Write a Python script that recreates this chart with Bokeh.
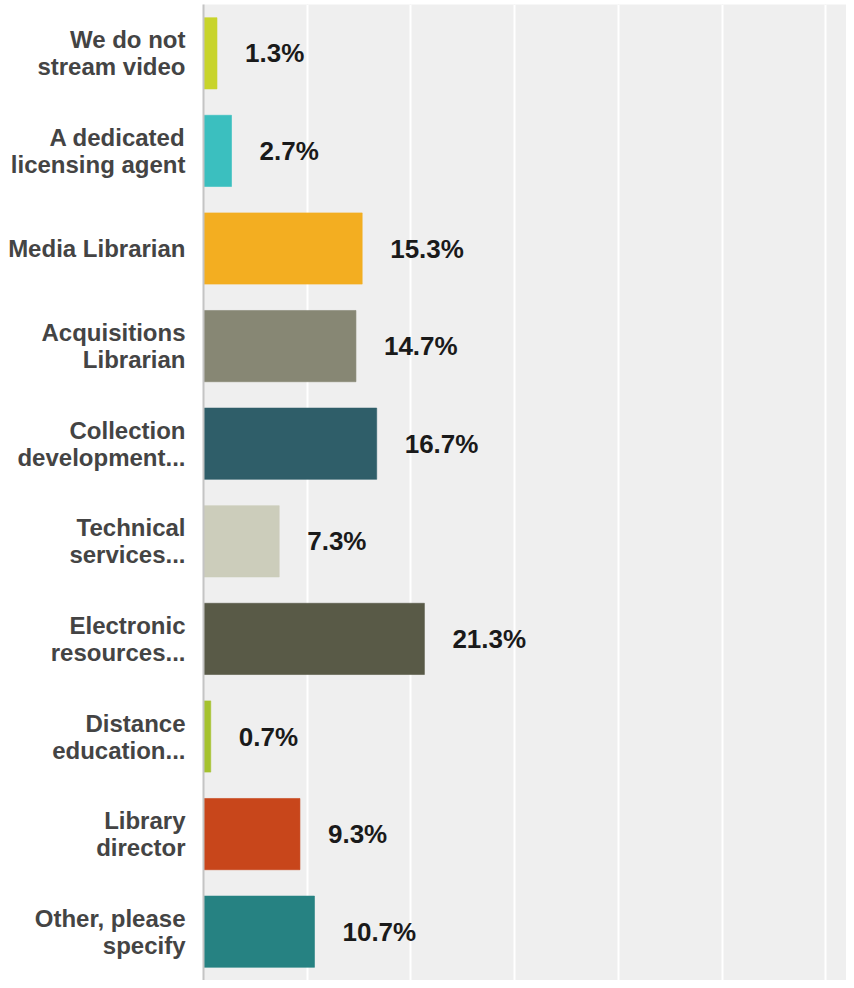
from bokeh.plotting import figure
from bokeh.models import FactorRange, Grid, SingleIntervalTicker, ColumnDataSource
from bokeh.core.properties import value
from bokeh.embed import file_html
from bokeh.resources import INLINE

categories = [
    "We do not\nstream video",
    "A dedicated\nlicensing agent",
    "Media Librarian",
    "Acquisitions\nLibrarian",
    "Collection\ndevelopment...",
    "Technical\nservices...",
    "Electronic\nresources...",
    "Distance\neducation...",
    "Library\ndirector",
    "Other, please\nspecify",
]
percentages = [1.3, 2.7, 15.3, 14.7, 16.7, 7.3, 21.3, 0.7, 9.3, 10.7]
colors = ["#c8d42b", "#3bbfbf", "#f3ae21", "#878774", "#2f5e69",
          "#cccdbb", "#595a47", "#a5c22e", "#c8461b", "#268282"]
value_labels = [f"{v:.1f}%" for v in percentages]

src = ColumnDataSource(dict(cat=categories, val=percentages, color=colors, lab=value_labels))

p = figure(width=846, height=980, output_backend="svg", toolbar_location=None,
           y_range=FactorRange(factors=list(reversed(categories)), range_padding=0),
           x_range=(0, 62.0), x_axis_location=None,
           min_border_left=203, min_border_right=0, min_border_top=4, min_border_bottom=0)

p.background_fill_color = "#efefef"
p.border_fill_color = "white"
p.outline_line_color = None
p.ygrid.grid_line_color = None
p.add_layout(Grid(dimension=0, ticker=SingleIntervalTicker(interval=10),
                  grid_line_color="white", grid_line_width=2))

p.hbar(y="cat", right="val", left=0, height=0.73, fill_color="color",
       line_color="color", line_alpha=0.6, source=src)

p.text(x="val", y="cat", text="lab", source=src, x_offset=28,
       text_baseline="middle", text_align="left",
       text_font=value("Liberation Sans"), text_font_style="bold",
       text_font_size="26px", text_color="#1a1a1a")

ax = p.yaxis[0]
ax.axis_line_color = "#c4c4c4"
ax.axis_line_width = 2
ax.major_tick_line_color = None
ax.minor_tick_line_color = None
ax.major_tick_out = 0
ax.major_tick_in = 0
ax.major_label_standoff = 18
ax.major_label_text_font = "Liberation Sans"
ax.major_label_text_font_style = "bold"
ax.major_label_text_font_size = "24px"
ax.major_label_text_color = "#444444"
ax.major_label_text_line_height = 1.0

open("out.html", "w").write(file_html(p, INLINE))
